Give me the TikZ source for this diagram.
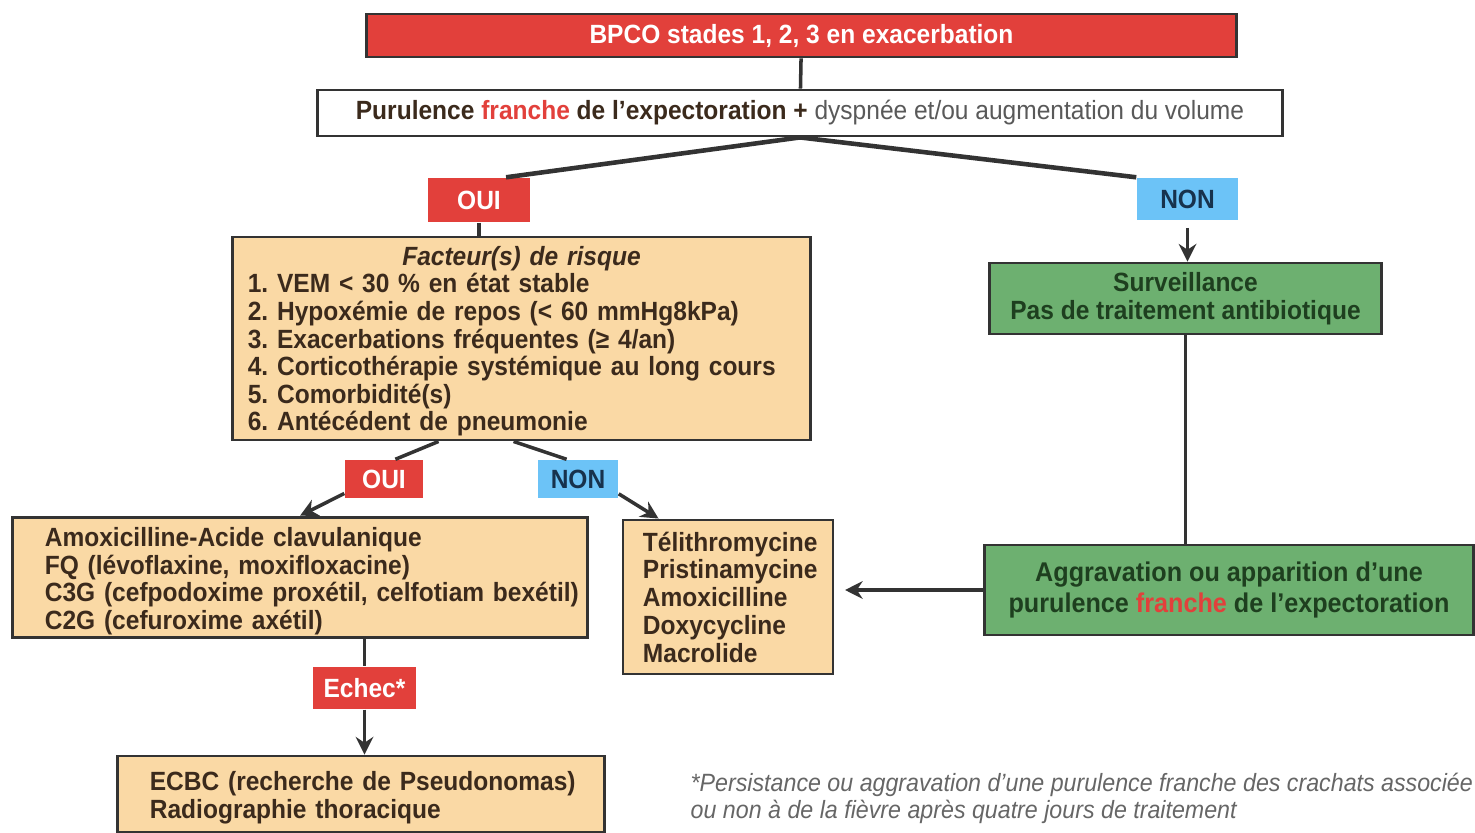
\documentclass[tikz,border=0pt]{standalone}
\usepackage{fontspec}
\setmainfont{Liberation Sans}[FakeStretch=0.93]
\usetikzlibrary{arrows.meta}
\frenchspacing
\definecolor{redbox}{HTML}{E2403B}
\definecolor{bluebox}{HTML}{6CC3F7}
\definecolor{peachbox}{HTML}{FAD9A5}
\definecolor{greenbox}{HTML}{6DB070}
\definecolor{greentext}{HTML}{1E3F1F}
\definecolor{browntext}{HTML}{3B2A1C}
\definecolor{bluetext}{HTML}{17324D}
\definecolor{edgegray}{HTML}{333333}
\tikzset{
  box/.style={draw=edgegray, line width=0.8pt, inner sep=0pt,
    font=\bfseries\fontsize{7.5}{7.85}\selectfont},
  riskbox/.style={box, fill=peachbox, text=browntext, align=left},
  carebox/.style={box, fill=greenbox, text=greentext, align=center},
  tag/.style={inner sep=0pt, font=\bfseries\fontsize{7.5}{7.5}\selectfont},
  ouitag/.style={tag, fill=redbox, text=white},
  nontag/.style={tag, fill=bluebox, text=bluetext},
  link/.style={draw=edgegray, line width=1pt},
  arr/.style={link, -{Stealth[length=5pt,width=5pt]}}
}
\begin{document}
\begin{tikzpicture}[x=0.01cm,y=-0.01cm]
    \useasboundingbox (0,0) rectangle (1475,833);
    \node (bpco) [box, fill=redbox, text=white, minimum width=8.69cm, minimum height=0.43cm]
        at (801.5,35.5) {BPCO stades 1, 2, 3 en exacerbation};
    \node (purulence) [box, fill=white, text=browntext, minimum width=9.64cm, minimum height=0.46cm]
        at (800,113) {Purulence \textcolor{redbox}{franche} de l'expectoration + {\mdseries\color{black!65}dyspnée et/ou augmentation du volume}};
    \node (oui) [ouitag, minimum width=1.02cm, minimum height=0.44cm] at (479,200) {OUI};
    \node (non) [nontag, minimum width=1.01cm, minimum height=0.42cm] at (1187.5,199) {NON};
    \node (risque) [riskbox, text width=5.47cm, inner xsep=0.15cm, minimum height=2.03cm] at (521.5,338.5)
        {\rule{0pt}{7pt}\makebox[5.47cm][c]{\itshape Facteur(s) de risque}\\
         1. VEM < 30 \% en état stable\\
         2. Hypoxémie de repos (< 60 mmHg8kPa)\\
         3. Exacerbations fréquentes (≥ 4/an)\\
         4. Corticothérapie systémique au long cours\\
         5. Comorbidité(s)\\
         6. Antécédent de pneumonie};
    \node (surveillance) [carebox, minimum width=3.91cm, minimum height=0.71cm] at (1185.5,298.5)
        {Surveillance\\Pas de traitement antibiotique};
    \node (aggravation) [carebox, minimum width=4.88cm, minimum height=0.90cm,
        font=\bfseries\fontsize{7.7}{9}\selectfont] at (1229,590)
        {Aggravation ou apparition d'une\\purulence \textcolor{redbox}{franche} de l'expectoration};
    \node (oui2) [ouitag, minimum width=0.78cm, minimum height=0.38cm] at (384,479) {OUI};
    \node (non2) [nontag, minimum width=0.80cm, minimum height=0.38cm] at (578,479) {NON};
    \node (amox) [riskbox, text width=5.10cm, inner xsep=0.32cm, minimum height=1.19cm] at (300,577.5)
        {\begin{tabular}{@{}l@{}}
         \rule{0pt}{8.4pt}Amoxicilline-Acide clavulanique\\
         FQ (lévoflaxine, moxifloxacine)\\
         C3G (cefpodoxime proxétil, celfotiam bexétil)\\
         C2G (cefuroxime axétil)
         \end{tabular}};
    \node (telithro) [riskbox, text width=1.70cm, inner xsep=0.20cm, minimum height=1.54cm] at (728,597)
        {\begin{tabular}{@{}l@{}}
         \rule{0pt}{8pt}Télithromycine\\[0.1pt]Pristinamycine\\[0.1pt]Amoxicilline\\[0.1pt]Doxycycline\\[0.1pt]Macrolide
         \end{tabular}};
    \node (echec) [ouitag, minimum width=1.03cm, minimum height=0.42cm] at (364.5,688) {Echec*};
    \node (ecbc) [riskbox, text width=4.22cm, inner xsep=0.32cm, minimum height=0.76cm] at (361,794)
        {\begin{tabular}{@{}l@{}}
         \rule{0pt}{8.2pt}ECBC (recherche de Pseudonomas)\\Radiographie thoracique
         \end{tabular}};
    \node (note) [anchor=north west, inner sep=0pt, align=left, text=black!60,
        font=\itshape\fontsize{7.1}{7.7}\selectfont] at (690,772)
        {*Persistance ou aggravation d'une purulence franche des crachats associée\\
         ou non à de la fièvre après quatre jours de traitement};
    % connexions
    \draw [link] (bpco) -- (purulence);
    \draw [link, line width=1.3pt] (purulence.south) -- (oui.40);
    \draw [link, line width=1.3pt] (purulence.south) -- (non.north west);
    \draw [link] (oui.south) -- (oui.south |- risque.north);
    \draw [arr, shorten <=2pt] (non.south) -- (non.south |- surveillance.north);
    \draw [link] (surveillance.south) -- (surveillance.south |- aggravation.north);
    \draw [arr, shorten >=3pt] (aggravation.west) -- (aggravation.west -| telithro.east);
    \draw [link] ([xshift=2.07cm]risque.south west) -- (oui2.60);
    \draw [link] ([xshift=2.82cm]risque.south west) -- (non2.120);
    \draw [arr] (oui2.200) -- (amox.north);
    \draw [arr] (non2.340) -- ([xshift=0.37cm]telithro.north west);
    \draw [link] (echec.north |- amox.south) -- (echec.north);
    \draw [arr] (echec.south) -- (echec.south |- ecbc.north);
\end{tikzpicture}
\end{document}
